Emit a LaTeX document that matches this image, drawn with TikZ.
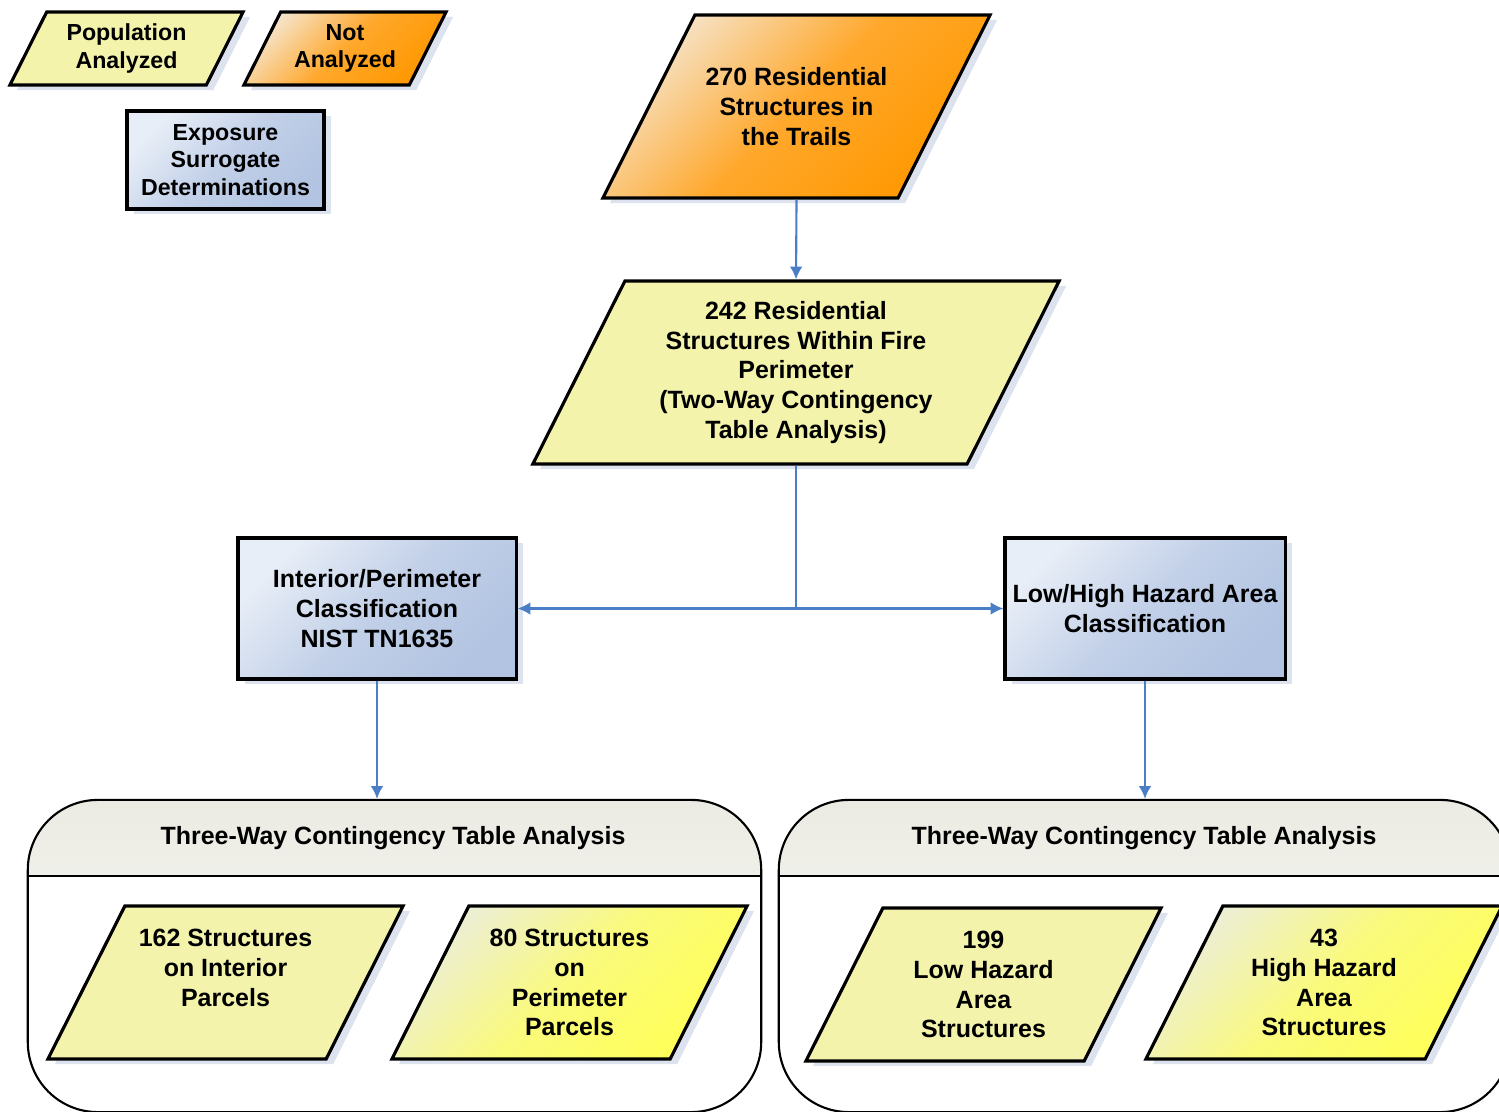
\documentclass[tikz,border=0pt]{standalone}
\usepackage{fontspec}
\setmainfont{Liberation Sans}
\usepackage{tikz}
\usetikzlibrary{shapes.geometric,shadows,arrows.meta}
\definecolor{paleyellow}{HTML}{F3F3AC}
\definecolor{yellowtop}{HTML}{ECEED8}
\definecolor{yellowmid}{HTML}{FAFA7C}
\definecolor{yellowbot}{HTML}{FFFF58}
\definecolor{orangetop}{HTML}{F6E4CA}
\definecolor{orangemid}{HTML}{FFA82C}
\definecolor{orangebot}{HTML}{FF9800}
\definecolor{bluetop}{HTML}{E8EEF7}
\definecolor{bluemid}{HTML}{C2D0E8}
\definecolor{bluebot}{HTML}{B2C4E2}
\definecolor{headgray}{HTML}{EBEBE3}
\definecolor{shadowblue}{HTML}{DCE3EF}
\definecolor{flowblue}{HTML}{4A7EC6}

\begin{document}
\begin{tikzpicture}[x=0.01cm,y=-0.01cm,
  words/.style={font=\bfseries\fontsize{7.1}{8.5}\selectfont},
  keywords/.style={font=\bfseries\fontsize{6.6}{7.9}\selectfont},
  shadowed/.style={drop shadow={shadow xshift=0.07cm,shadow yshift=-0.05cm,fill=shadowblue,opacity=1}},
  slant/.style n args={3}{trapezium,trapezium left angle=63.3,trapezium right angle=116.7,trapezium stretches body,
    draw,line width=0.9pt,inner sep=0pt,shadowed,minimum width=#1,minimum height=#2,
    execute at begin node={\begin{minipage}[c][#2]{#3}\centering},execute at end node={\end{minipage}}},
  population/.style={fill=paleyellow},
  subset/.style={top color=yellowtop,bottom color=yellowbot,middle color=yellowmid,shading angle=45},
  excluded/.style={top color=orangetop,bottom color=orangebot,middle color=orangemid,shading angle=45},
  surrogate/.style={rectangle,draw,line width=0.9pt,inner sep=1pt,shadowed,align=center,
    top color=bluetop,bottom color=bluebot,middle color=bluemid,shading angle=45},
  panel/.style={rectangle,draw,line width=0.6pt,rounded corners=0.7cm,fill=white,minimum height=3.12cm,
    path picture={\shade[sharp corners,top color=headgray,bottom color=white!96!headgray]
      (path picture bounding box.north west) rectangle ([yshift=-0.77cm]path picture bounding box.north east);}},
  flow/.style={draw=flowblue,line width=0.6pt,-{Latex[length=3.6pt,width=3.6pt]}},
  link/.style={draw=flowblue,line width=0.6pt}]
\useasboundingbox (0,0) rectangle (1499,1112);

% legend
\node[slant={2.33cm}{0.73cm}{1.3cm},population,keywords] (keypop) at (126.5,48.5) {Population\\Analyzed};
\node[slant={2.02cm}{0.73cm}{1.2cm},excluded,keywords] (keynot) at (345,48.5) {Not\\Analyzed};
\node[surrogate,keywords,minimum width=1.97cm,minimum height=0.98cm] (keyexp) at (225.5,160) {Exposure\\Surrogate\\Determinations};

\node[slant={3.87cm}{1.83cm}{1.95cm},excluded,words] (trails) at (796.5,106.5) {270 Residential\\Structures in\\the Trails};
\node[slant={5.26cm}{1.83cm}{3.0cm},population,words] (fireper) at (796,372.5)
  {242 Residential\\Structures Within Fire\\Perimeter\\(Two-Way Contingency\\Table Analysis)};
\node[surrogate,words,minimum width=2.78cm,minimum height=1.41cm] (interior) at (377,608.5) {Interior/Perimeter\\Classification\\NIST TN1635};
\node[surrogate,words,minimum width=2.80cm,minimum height=1.41cm] (lowhigh) at (1145,608.5) {Low/High Hazard Area\\Classification};

% three-way panels
\node[panel,minimum width=7.33cm] (leftpanel) at (394.5,956) {};
\node[panel,minimum width=7.31cm] (rightpanel) at (1144.5,956) {};
\draw[line width=0.6pt] ([yshift=-0.77cm]leftpanel.north west) -- ([yshift=-0.77cm]leftpanel.north east);
\draw[line width=0.6pt] ([yshift=-0.77cm]rightpanel.north west) -- ([yshift=-0.77cm]rightpanel.north east);
\node[words] (lefthead) at (393,838) {Three-Way Contingency Table Analysis};
\node[words] (righthead) at (1144,838) {Three-Way Contingency Table Analysis};

\node[slant={3.55cm}{1.53cm}{1.85cm},population,words] (interiorpar) at (225.5,982.5) {162 Structures\\on Interior\\Parcels\\\mbox{}};
\node[slant={3.55cm}{1.53cm}{1.85cm},subset,words] (perimpar) at (569.5,982.5) {80 Structures\\on\\Perimeter\\Parcels};
\node[slant={3.55cm}{1.53cm}{1.85cm},population,words] (lowarea) at (983.5,984.5) {199\\Low Hazard\\Area\\Structures};
\node[slant={3.56cm}{1.53cm}{1.85cm},subset,words] (higharea) at (1324,982.5) {43\\High Hazard\\Area\\Structures};

% connectors
\draw[flow] (trails.south) -- (fireper.north);
\coordinate (split) at (fireper.south |- interior.east);
\draw[link] (fireper.south) -- (split);
\draw[flow] (split) -- (interior.east);
\draw[flow] (split) -- (lowhigh.west);
\draw[flow] (interior.south) -- (interior.south |- leftpanel.north);
\draw[flow] (lowhigh.south) -- (lowhigh.south |- rightpanel.north);
\end{tikzpicture}
\end{document}
